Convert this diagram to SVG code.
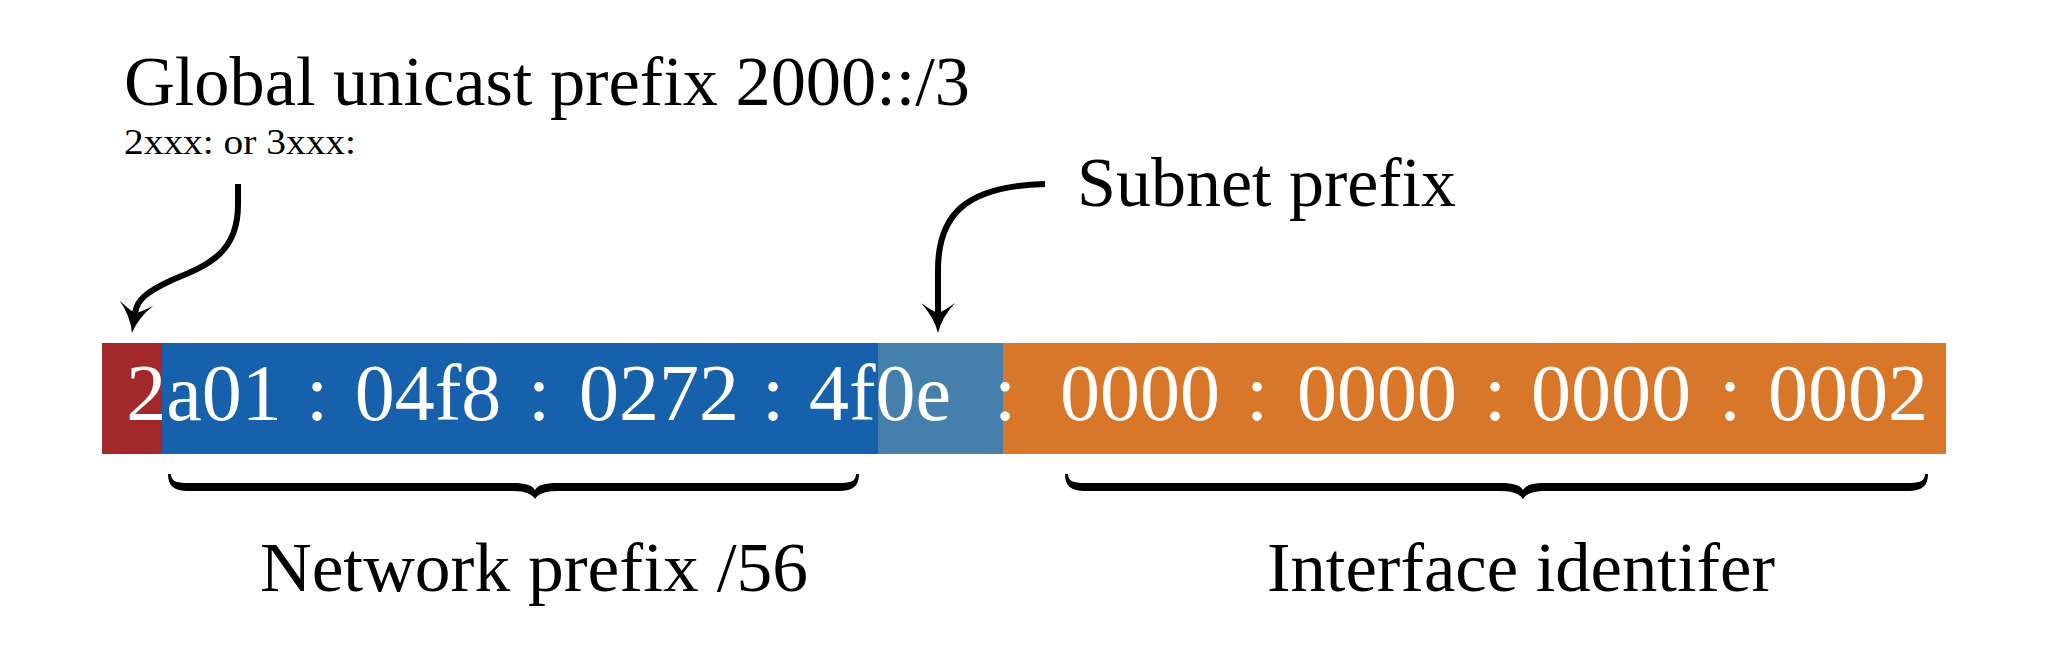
<svg xmlns="http://www.w3.org/2000/svg" width="2048" height="656" viewBox="0 0 2048 656">
<style>
.lbl{font-family:"Liberation Serif","Times New Roman",serif;fill:#000}
.big{font-size:70px}
.addr{font-family:"Liberation Serif","Times New Roman",serif;font-size:80px;fill:#fff;text-anchor:middle}
.arrow{fill:none;stroke:#000;stroke-width:6;stroke-linecap:butt}
.brace{fill:#000}
</style>
<defs>
<marker id="head" markerUnits="userSpaceOnUse" markerWidth="40" markerHeight="40" viewBox="-2 -20 36 40" refX="10" refY="0" orient="auto" overflow="visible">
<path d="M30,0 Q14,-4 0,-17 Q8,-6 10,0 Q8,6 0,17 Q14,4 30,0 Z" fill="#000"/>
</marker>
</defs>
<rect width="2048" height="656" fill="#fff"/>

<g id="title">
<text class="lbl big" x="124" y="105" textLength="846" lengthAdjust="spacingAndGlyphs">Global unicast prefix 2000::/3</text>
<text class="lbl" x="124" y="154" font-size="35" textLength="232" lengthAdjust="spacingAndGlyphs">2xxx: or 3xxx:</text>
</g>

<g id="subnet-label">
<text class="lbl big" x="1077" y="206" textLength="379" lengthAdjust="spacingAndGlyphs">Subnet prefix</text>
</g>

<g id="address-bar">
<rect x="102" y="343" width="61" height="111" fill="#A3282B"/>
<rect x="162" y="343" width="717" height="111" fill="#1660AC"/>
<rect x="878" y="343" width="126" height="111" fill="#457FAB"/>
<rect x="1003" y="343" width="943" height="111" fill="#D8772A"/>
<text class="addr" x="204" y="420">2a01</text>
<text class="addr" x="317" y="420">:</text>
<text class="addr" x="428" y="420">04f8</text>
<text class="addr" x="539" y="420">:</text>
<text class="addr" x="659" y="420">0272</text>
<text class="addr" x="773" y="420">:</text>
<text class="addr" x="880" y="420">4f0e</text>
<text class="addr" x="1005" y="420">:</text>
<text class="addr" x="1140" y="420">0000</text>
<text class="addr" x="1257" y="420">:</text>
<text class="addr" x="1377" y="420">0000</text>
<text class="addr" x="1495" y="420">:</text>
<text class="addr" x="1611" y="420">0000</text>
<text class="addr" x="1730" y="420">:</text>
<text class="addr" x="1848" y="420">0002</text>
</g>

<g id="network-prefix">
<path class="brace" d="M168,474 C168,486 174,491 188,491 L513,491 C525,491 532,494 535,499 C538,494 545,491 557,491 L839,491 C853,491 859,486 859,474 L856,474 C856,481 851,483 839,483 L557,483 C545,483 538,485 535,490 C532,485 525,483 513,483 L188,483 C176,483 171,481 171,474 Z"/>
<text class="lbl big" x="260" y="591" textLength="548" lengthAdjust="spacingAndGlyphs">Network prefix /56</text>
</g>

<g id="interface-identifier">
<path class="brace" d="M1065,474 C1065,486 1071,491 1085,491 L1501,491 C1513,491 1520,494 1523,499 C1526,494 1533,491 1545,491 L1908,491 C1922,491 1928,486 1928,474 L1925,474 C1925,481 1920,483 1908,483 L1545,483 C1533,483 1526,485 1523,490 C1520,485 1513,483 1501,483 L1085,483 C1073,483 1068,481 1068,474 Z"/>
<text class="lbl big" x="1267" y="591" textLength="508" lengthAdjust="spacingAndGlyphs">Interface identifer</text>
</g>

<g id="connectors">
<path class="arrow" marker-end="url(#head)" d="M238,184 L238,205 C238,255 205,266 172,280 C146,292 137,300 135,313"/>
<path class="arrow" marker-end="url(#head)" d="M1045,184 C965,186 938,215 938,270 L938,313"/>
</g>
</svg>
